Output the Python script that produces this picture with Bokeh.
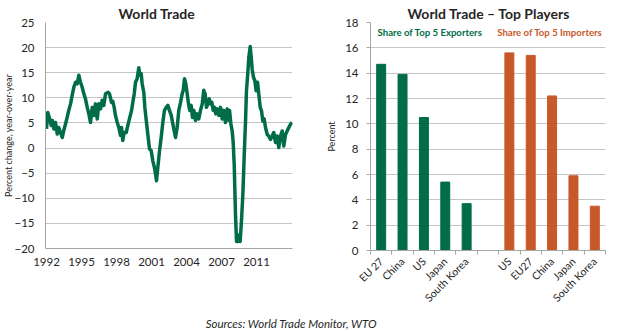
import math
from bokeh.plotting import figure
from bokeh.models import Range1d, FixedTicker, Label
from bokeh.layouts import row, column
from bokeh.embed import file_html
from bokeh.resources import INLINE

# ---------------- data ----------------
years = [1992.00, 1992.11, 1992.28, 1992.40, 1992.51, 1992.63, 1992.77, 1992.92, 1993.05, 1993.20,
         1993.35, 1993.48, 1993.63, 1993.77, 1993.91, 1994.06, 1994.20, 1994.34, 1994.49, 1994.63,
         1994.77, 1994.91, 1995.06, 1995.20, 1995.34, 1995.49, 1995.63, 1995.77, 1995.92, 1996.05,
         1996.20, 1996.35, 1996.48, 1996.63, 1996.77, 1996.91, 1997.06, 1997.29, 1997.40, 1997.57,
         1997.68, 1997.80, 1997.91, 1998.06, 1998.20, 1998.34, 1998.43, 1998.54, 1998.66, 1998.83,
         1999.00, 1999.11, 1999.29, 1999.40, 1999.52, 1999.63, 1999.77, 1999.91, 2000.00, 2000.12,
         2000.20, 2000.34, 2000.43, 2000.55, 2000.68, 2000.83, 2000.97, 2001.11, 2001.28, 2001.43,
         2001.54, 2001.69, 2001.83, 2001.97, 2002.11, 2002.26, 2002.40, 2002.54, 2002.69, 2002.83,
         2002.97, 2003.06, 2003.20, 2003.34, 2003.49, 2003.63, 2003.72, 2003.83, 2003.94, 2004.06,
         2004.17, 2004.28, 2004.40, 2004.51, 2004.63, 2004.77, 2004.92, 2005.05, 2005.20, 2005.35,
         2005.48, 2005.60, 2005.71, 2005.83, 2005.95, 2006.06, 2006.17, 2006.29, 2006.40, 2006.51,
         2006.63, 2006.77, 2006.91, 2007.06, 2007.20, 2007.34, 2007.49, 2007.57, 2007.69, 2007.80,
         2007.92, 2008.00, 2008.09, 2008.14, 2008.20, 2008.29, 2008.40, 2008.48, 2008.60, 2008.71,
         2008.83, 2008.95, 2009.06, 2009.14, 2009.25, 2009.34, 2009.46, 2009.55, 2009.63, 2009.74,
         2009.86, 2009.97, 2010.09, 2010.20, 2010.32, 2010.43, 2010.54, 2010.66, 2010.77, 2010.92,
         2011.05, 2011.20, 2011.35, 2011.48, 2011.63, 2011.77, 2011.91, 2012.06, 2012.20, 2012.34,
         2012.49, 2012.63, 2012.77, 2012.91, 2013.06]
growth = [3.8, 7.1, 5.8, 4.5, 5.5, 3.8, 5.1, 2.8, 4.1, 3.1,
          2.1, 3.5, 4.8, 6.1, 7.5, 8.8, 10.5, 12.1, 13.1, 12.8,
          14.5, 13.1, 12.1, 10.8, 9.8, 8.1, 6.8, 5.1, 8.1, 6.5,
          8.8, 5.8, 8.8, 7.8, 9.5, 8.5, 10.8, 11.1, 10.8, 9.1,
          9.3, 8.1, 6.5, 5.1, 4.1, 2.5, 4.1, 1.5, 3.1, 3.1,
          4.8, 5.8, 7.5, 9.1, 10.8, 13.1, 13.8, 16.0, 14.5, 14.8,
          12.8, 11.1, 8.1, 5.5, 2.8, -0.2, -0.5, -2.5, -4.2, -6.5,
          -3.9, -0.5, 2.1, 5.1, 7.5, 8.1, 8.5, 7.5, 6.5, 4.8,
          3.1, 2.1, 4.1, 7.5, 9.1, 10.8, 11.5, 13.8, 12.8, 10.8,
          8.8, 7.5, 8.5, 6.1, 7.5, 5.5, 6.8, 5.8, 7.5, 8.8,
          11.5, 10.8, 8.1, 8.8, 9.8, 8.8, 9.1, 7.5, 8.1, 6.8,
          7.8, 6.5, 8.1, 5.8, 7.5, 5.1, 7.8, 5.6, 7.5, 4.9,
          3.3, 1.2, -3.3, -7.9, -13.3, -18.6, -18.6, -17.3, -18.6, -14.6,
          -9.3, -1.3, 5.4, 11.4, 14.7, 18.0, 20.2, 18.0, 15.7, 14.1,
          13.4, 11.4, 13.1, 10.7, 8.1, 7.4, 5.4, 5.8, 4.1, 2.7,
          2.4, 1.7, 2.4, 3.1, 1.1, 2.4, 0.1, 2.4, 3.4, 0.4,
          2.7, 3.4, 4.1, 4.7, 5.1]

year_ticks = [1992, 1995, 1998, 2001, 2004, 2007, 2010]
year_labels = ["1992", "1995", "1998", "2001", "2004", "2007", "2011"]
growth_ticks = [-20, -15, -10, -5, 0, 5, 10, 15, 20, 25]

exporters = ["EU 27", "China", "US", "Japan", "South Korea"]
export_share = [14.7, 13.9, 10.5, 5.4, 3.7]
importers = ["US", "EU27", "China", "Japan", "South Korea"]
import_share = [15.6, 15.4, 12.2, 5.9, 3.5]
share_ticks = [0, 2, 4, 6, 8, 10, 12, 14, 16, 18]

# ---------------- style ----------------
FONT = "Lato"
GREEN = "#006d48"
ORANGE = "#c8582a"
TXT = "#262626"
GRID = "#c4c4c4"
AXIS = "#a6a6a6"

# ---------------- left chart ----------------
p1 = figure(frame_width=247, frame_height=226, output_backend="svg", toolbar_location=None,
            x_range=Range1d(1991.914, 2013.086), y_range=Range1d(-20, 25),
            min_border_left=45, min_border_right=20, min_border_top=22, min_border_bottom=62)
p1.outline_line_color = None
p1.title.text = "World Trade"
p1.title.align = "left"
p1.title.offset = 73
p1.title.standoff = 2
p1.title.text_font = FONT
p1.title.text_font_size = "14px"
p1.title.text_font_style = "bold"
p1.title.text_color = TXT

p1.line(years, growth, line_color=GREEN, line_width=3.5, line_join="round")

p1.xgrid.visible = False
p1.ygrid.grid_line_color = GRID
p1.ygrid.ticker = FixedTicker(ticks=growth_ticks)

p1.yaxis.ticker = FixedTicker(ticks=growth_ticks)
p1.yaxis.axis_line_color = AXIS
p1.yaxis.major_label_standoff = 11
p1.yaxis.axis_label = "Percent change, year-over-year"
p1.yaxis.axis_label_text_font = FONT
p1.yaxis.axis_label_text_font_size = "9px"
p1.yaxis.axis_label_text_font_style = "normal"
p1.yaxis.axis_label_text_color = TXT
p1.yaxis.axis_label_standoff = -3

p1.xaxis.ticker = FixedTicker(ticks=year_ticks)
p1.xaxis.major_label_overrides = dict(zip(year_ticks, year_labels))
p1.xaxis.axis_line_color = AXIS
p1.xaxis.major_label_standoff = 9

for ax in (p1.xaxis[0], p1.yaxis[0]):
    ax.major_tick_line_color = None
    ax.minor_tick_line_color = None
    ax.major_tick_out = 0
    ax.major_tick_in = 0
    ax.minor_tick_out = 0
    ax.minor_tick_in = 0
    ax.major_label_text_font = FONT
    ax.major_label_text_font_size = "11.5px"
    ax.major_label_text_color = TXT

# ---------------- right chart ----------------
p2 = figure(frame_width=235, frame_height=228, output_backend="svg", toolbar_location=None,
            x_range=Range1d(0, 11), y_range=Range1d(0, 18),
            min_border_left=58, min_border_right=20, min_border_top=22, min_border_bottom=60)
p2.outline_line_color = None
p2.title.text = "World Trade \u2013 Top Players"
p2.title.align = "left"
p2.title.offset = 37
p2.title.standoff = 2
p2.title.text_font = FONT
p2.title.text_font_size = "14px"
p2.title.text_font_style = "bold"
p2.title.text_color = TXT

exp_x = [i + 0.5 for i in range(len(exporters))]
imp_x = [len(exporters) + 1 + i + 0.5 for i in range(len(importers))]
p2.vbar(x=exp_x, top=export_share, width=0.42, color=GREEN)
p2.vbar(x=imp_x, top=import_share, width=0.42, color=ORANGE)

p2.add_layout(Label(x=0.33, y=17.2, text="Share of Top 5 Exporters", text_color=GREEN,
                    text_font=FONT, text_font_size="9.6px", text_font_style="bold",
                    text_baseline="middle", text_align="left"))
p2.add_layout(Label(x=5.93, y=17.2, text="Share of Top 5 Importers", text_color=ORANGE,
                    text_font=FONT, text_font_size="9.6px", text_font_style="bold",
                    text_baseline="middle", text_align="left"))

p2.xgrid.visible = False
p2.ygrid.grid_line_color = GRID
p2.ygrid.ticker = FixedTicker(ticks=share_ticks)

p2.yaxis.ticker = FixedTicker(ticks=share_ticks)
p2.yaxis.major_tick_out = 4
p2.yaxis.major_tick_in = 0
p2.yaxis.minor_tick_out = 0
p2.yaxis.minor_tick_in = 0
p2.yaxis.major_tick_line_color = AXIS
p2.yaxis.minor_tick_line_color = None
p2.yaxis.axis_line_color = AXIS
p2.yaxis.major_label_standoff = 8
p2.yaxis.axis_label = "Percent"
p2.yaxis.axis_label_text_font = FONT
p2.yaxis.axis_label_text_font_size = "9px"
p2.yaxis.axis_label_text_font_style = "normal"
p2.yaxis.axis_label_text_color = TXT
p2.yaxis.axis_label_standoff = 5

all_x = exp_x + imp_x
all_names = exporters + importers
bounds = [float(i) for i in range(12)]
p2.xaxis.ticker = FixedTicker(ticks=all_x, minor_ticks=bounds)
p2.xaxis.major_label_overrides = dict(zip(all_x, all_names))
p2.xaxis.major_tick_line_color = None
p2.xaxis.major_tick_out = 0
p2.xaxis.major_tick_in = 0
p2.xaxis.minor_tick_line_color = AXIS
p2.xaxis.minor_tick_out = 4
p2.xaxis.minor_tick_in = 0
p2.xaxis.axis_line_color = AXIS
p2.xaxis.major_label_orientation = math.pi / 4
p2.xaxis.major_label_standoff = 5

for ax in (p2.xaxis[0], p2.yaxis[0]):
    ax.major_label_text_font = FONT
    ax.major_label_text_font_size = "11.5px"
    ax.major_label_text_color = TXT
p2.xaxis.major_label_text_font_size = "10.5px"

# ---------------- source line ----------------
p3 = figure(width=625, height=21, output_backend="svg", toolbar_location=None,
            x_range=Range1d(0, 625), y_range=Range1d(0, 21),
            x_axis_location=None, y_axis_location=None, min_border=0)
p3.outline_line_color = None
p3.grid.visible = False
p3.add_layout(Label(x=291, y=9, text="Sources: World Trade Monitor, WTO",
                    text_font=FONT, text_font_size="11.5px", text_font_style="italic",
                    text_color=TXT, text_align="center", text_baseline="middle"))

layout = column(row(p1, p2), p3)
open("out.html", "w").write(file_html(layout, INLINE))
